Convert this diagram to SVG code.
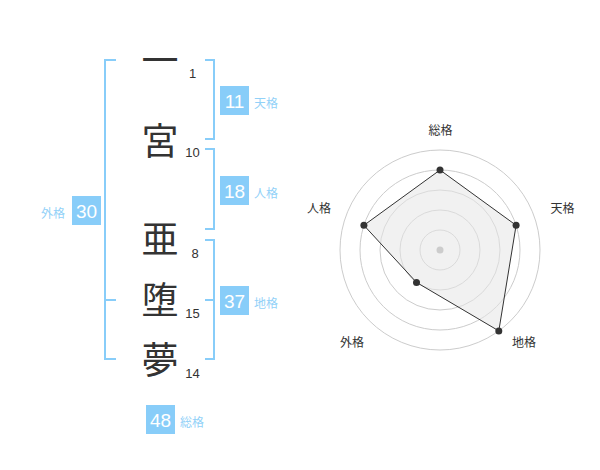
<svg xmlns="http://www.w3.org/2000/svg" width="600" height="470" viewBox="0 0 600 470">
<style>
.kanji{font-family:"Noto Sans CJK JP","Noto Sans CJK SC",sans-serif;font-size:37px;fill:#333;text-anchor:middle}
.num{font-family:"Liberation Sans",Arial,sans-serif;font-size:13px;fill:#333;text-anchor:middle}
.br{fill:none;stroke:#88cdf9;stroke-width:2}
.box{fill:#88cdf9}
.bnum{font-family:"Liberation Sans",Arial,sans-serif;font-size:19px;fill:#fff;text-anchor:middle}
.blab{font-family:"Noto Sans CJK JP","Noto Sans CJK SC",sans-serif;font-size:12px;fill:#92d1f8}
.rlab{font-family:"Noto Sans CJK JP","Noto Sans CJK SC",sans-serif;font-size:12px;fill:#333;text-anchor:middle}
.ring{fill:none;stroke:#cccccc;stroke-width:1}
.pt{fill:#333}
</style>
<rect width="600" height="470" fill="#fff"/>
<g id="chars">
<text class="kanji" x="160" y="74">一</text>
<text class="kanji" x="160" y="155">宮</text>
<text class="kanji" x="160" y="253">亜</text>
<text class="kanji" x="160" y="314">堕</text>
<text class="kanji" x="160" y="374">夢</text>
</g>
<g id="strokes">
<text class="num" x="192.5" y="77.5">1</text>
<text class="num" x="192.5" y="157">10</text>
<text class="num" x="195" y="257.5">8</text>
<text class="num" x="192.5" y="317.5">15</text>
<text class="num" x="192.5" y="377.5">14</text>
</g>
<g id="connectors">
<path class="br" d="M116,60 H105 V359 H116 M105,300 H116"/>
<path class="br" d="M205,60 H214 V139 H205"/>
<path class="br" d="M205,149 H214 V229 H205"/>
<path class="br" d="M205,240 H214 V359 H205 M205,300 H214"/>
</g>
<g id="tenkaku">
<rect class="box" x="220" y="86" width="29" height="29"/>
<text class="bnum" x="234.5" y="107.5">11</text>
<text class="blab" x="254" y="108">天格</text>
</g>
<g id="jinkaku">
<rect class="box" x="220" y="176" width="29" height="29"/>
<text class="bnum" x="234.5" y="197.5">18</text>
<text class="blab" x="254" y="198">人格</text>
</g>
<g id="chikaku">
<rect class="box" x="220" y="286" width="29" height="29"/>
<text class="bnum" x="234.5" y="307.5">37</text>
<text class="blab" x="254" y="308">地格</text>
</g>
<g id="gaikaku">
<rect class="box" x="72" y="196" width="29" height="29"/>
<text class="bnum" x="86.5" y="217.5">30</text>
<text class="blab" x="41" y="218">外格</text>
</g>
<g id="soukaku">
<rect class="box" x="146" y="405" width="29" height="29"/>
<text class="bnum" x="160.5" y="426.5">48</text>
<text class="blab" x="180" y="427">総格</text>
</g>
<g id="radar">
<circle class="ring" cx="440" cy="250" r="20"/>
<circle class="ring" cx="440" cy="250" r="40"/>
<circle class="ring" cx="440" cy="250" r="60"/>
<circle class="ring" cx="440" cy="250" r="80"/>
<circle class="ring" cx="440" cy="250" r="100"/>
<polygon points="440,170 516.1,225.3 498.8,330.9 416.5,282.4 363.9,225.3" fill="#e6e6e6" fill-opacity="0.55" stroke="#333" stroke-width="1"/>
<circle cx="440" cy="250" r="3.5" fill="#cccccc"/>
<circle class="pt" cx="440" cy="170" r="3.5"/>
<circle class="pt" cx="516.1" cy="225.3" r="3.5"/>
<circle class="pt" cx="498.8" cy="330.9" r="3.5"/>
<circle class="pt" cx="416.5" cy="282.4" r="3.5"/>
<circle class="pt" cx="363.9" cy="225.3" r="3.5"/>
<text class="rlab" x="440.5" y="135">総格</text>
<text class="rlab" x="562.5" y="213">天格</text>
<text class="rlab" x="319" y="213">人格</text>
<text class="rlab" x="352" y="347">外格</text>
<text class="rlab" x="524" y="347">地格</text>
</g>
</svg>
